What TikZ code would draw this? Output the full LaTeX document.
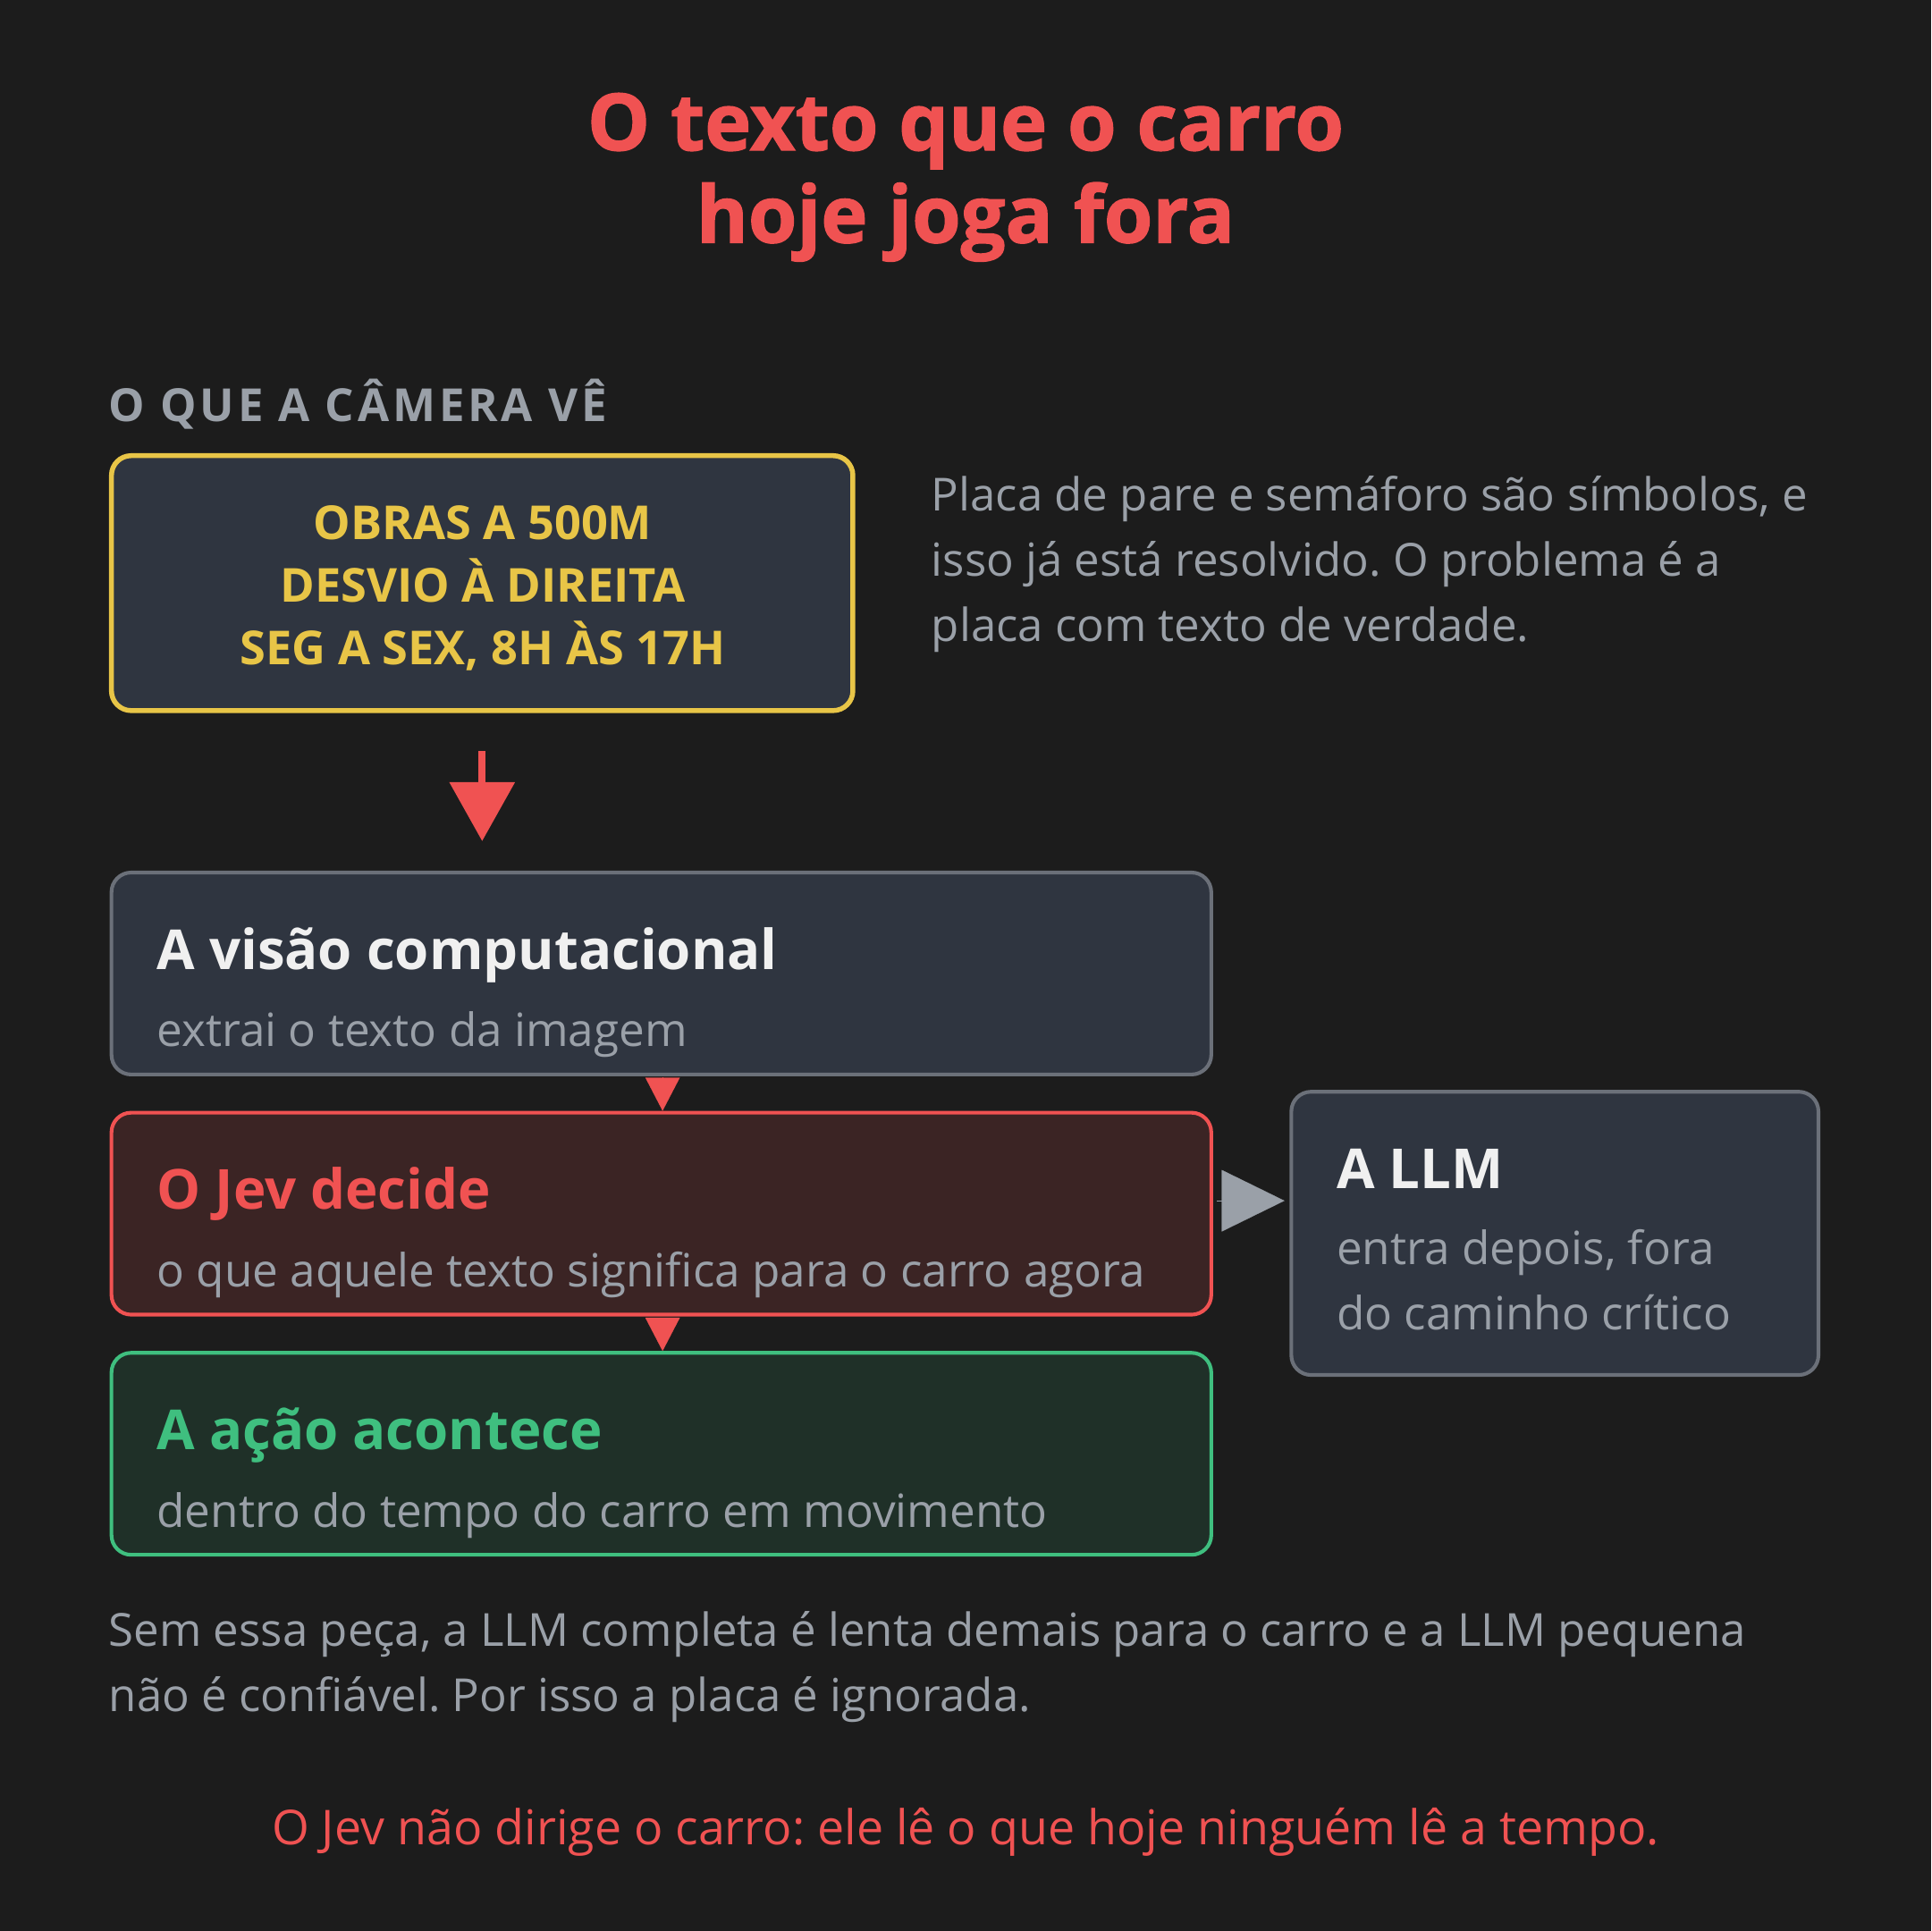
\documentclass[tikz,border=0pt]{standalone}
\usepackage{fontspec}
\setmainfont{Open Sans}
\usetikzlibrary{arrows.meta,calc}
\definecolor{bg}{HTML}{1C1C1C}
\definecolor{redc}{HTML}{F05252}
\definecolor{yellowc}{HTML}{E8C547}
\definecolor{graytext}{HTML}{9AA0A8}
\definecolor{boxfill}{HTML}{2F3540}
\definecolor{grayborder}{HTML}{6B7079}
\definecolor{jevfill}{HTML}{3B2424}
\definecolor{greenc}{HTML}{3FBF7F}
\definecolor{greenfill}{HTML}{1F3028}
\definecolor{whitec}{HTML}{F0F0F0}
\frenchspacing
\begin{document}
\begin{tikzpicture}[x=0.5pt,y=-0.5pt,
  panel/.style={rectangle, rounded corners=8pt, line width=1.5pt, inner sep=0pt},
  boxtitle/.style={anchor=base west, inner sep=0pt, font=\fontsize{22.4}{28}\selectfont\bfseries},
  boxsub/.style={anchor=base west, inner sep=0pt, text=graytext, font=\fontsize{18.6}{24}\selectfont},
  signtext/.style={anchor=base, inner sep=0pt, text=yellowc, font=\fontsize{19}{22}\selectfont\bfseries},
  bodytext/.style={anchor=base west, inner sep=0pt, text=graytext, font=\fontsize{18.5}{24}\selectfont},
  titletext/.style={anchor=base, inner sep=0pt, text=redc, font=\fontsize{32}{36}\selectfont\bfseries\addfontfeatures{FakeBold=1.5}},
  redtip/.style={draw=redc, fill=redc, -{Triangle[length=24pt,width=26pt]}, line width=3pt},
  smalltip/.style={draw=redc, fill=redc, -{Triangle[length=13.5pt,width=14pt]}, line width=0.1pt},
  graytip/.style={draw=graytext, fill=graytext, -{Triangle[length=25.5pt,width=25pt]}, line width=0.1pt}
]
\fill[bg] (0,0) rectangle (1568,1568);
\useasboundingbox (0,0) rectangle (1568,1568);

% title
\node[titletext] (t1) at (784,122) {O texto que o carro};
\node[titletext] (t2) at (784,197) {hoje joga fora};

% section label
\node[anchor=base west, inner sep=0pt, text=graytext, font=\fontsize{18.5}{22}\selectfont\bfseries\addfontfeatures{LetterSpace=7.5}] (lab) at (88,342) {O QUE A CÂMERA VÊ};

% sign box
\node[panel, draw=yellowc, fill=boxfill, line width=2pt, minimum width=301pt, minimum height=103.5pt] (sign) at (391.5,473.5) {};
\node[signtext] (s1) at (392,438) {OBRAS A 500M};
\node[signtext] (s2) at (392,489) {DESVIO À DIREITA};
\node[signtext] (s3) at (392,540) {SEG A SEX, 8H ÀS 17H};

% right paragraph
\node[bodytext] (p1) at (756,415) {Placa de pare e semáforo são símbolos, e};
\node[bodytext] (p2) at (756,468) {isso já está resolvido. O problema é a};
\node[bodytext] (p3) at (756,521) {placa com texto de verdade.};

% vision box
\node[panel, draw=grayborder, fill=boxfill, minimum width=446.5pt, minimum height=82pt] (vision) at (537,790.5) {};
\node[boxtitle, text=whitec] (v1) at (127,787) {A visão computacional};
\node[boxsub] (v2) at (127,850) {extrai o texto da imagem};

% jev box
\node[panel, draw=redc, fill=jevfill, minimum width=446.5pt, minimum height=82pt] (jev) at (537,985.5) {};
\node[boxtitle, text=redc] (j1) at (127,982) {O Jev decide};
\node[boxsub] (j2) at (127,1045) {o que aquele texto significa para o carro agora};

% action box
\node[panel, draw=greenc, fill=greenfill, minimum width=446.5pt, minimum height=82pt] (acao) at (537,1180.5) {};
\node[boxtitle, text=greenc] (a1) at (127,1177) {A ação acontece};
\node[boxsub] (a2) at (127,1240) {dentro do tempo do carro em movimento};

% LLM box
\node[panel, draw=grayborder, fill=boxfill, minimum width=214pt, minimum height=115pt] (llm) at (1262.5,1001.5) {};
\node[boxtitle, text=whitec] (l1) at (1085,965) {A LLM};
\node[boxsub] (l2) at (1085,1027) {entra depois, fora};
\node[boxsub] (l3) at (1085,1080) {do caminho crítico};

% bottom text
\node[bodytext] (b1) at (88,1337) {Sem essa peça, a LLM completa é lenta demais para o carro e a LLM pequena};
\node[bodytext] (b2) at (88,1390) {não é confiável. Por isso a placa é ignorada.};

\node[anchor=base, inner sep=0pt, text=redc, font=\fontsize{19.5}{24}\selectfont] (fin) at (784,1498) {O Jev não dirige o carro: ele lê o que hoje ninguém lê a tempo.};

% connectors
\draw[redtip, shorten <=15.5pt, shorten >=12pt] (sign.south) -- (sign.south |- vision.north);
\draw[smalltip, shorten <=1pt] ([xshift=0.5pt]vision.south) -- ([xshift=0.5pt]jev.north);
\draw[smalltip, shorten <=1pt] ([xshift=0.5pt]jev.south) -- ([xshift=0.5pt]acao.north);
\coordinate (ja) at ($(jev.east)+(3,-10.5)$);
\draw[graytip, shorten >=2pt] (ja) -- (llm.west |- ja);
\end{tikzpicture}
\end{document}
